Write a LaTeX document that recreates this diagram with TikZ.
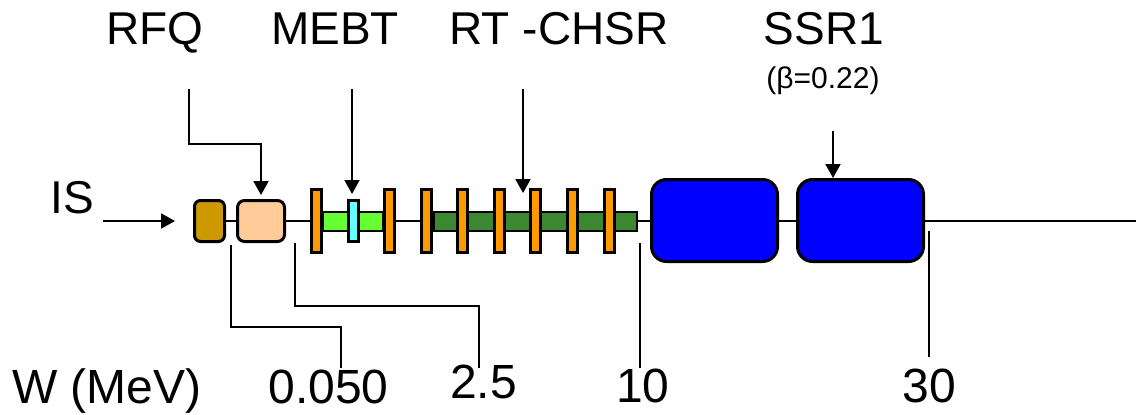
\documentclass[tikz,border=0pt]{standalone}
\usepackage{fontspec}
\setmainfont{Liberation Sans}
\usetikzlibrary{arrows.meta,backgrounds}
\definecolor{srcbrown}{RGB}{204,153,0}
\definecolor{rfqpeach}{RGB}{255,204,153}
\definecolor{mebtgreen}{RGB}{102,255,51}
\definecolor{chgreen}{RGB}{60,135,50}
\definecolor{kicker}{RGB}{102,255,255}
\definecolor{lensorange}{RGB}{255,153,0}
\definecolor{cavblue}{RGB}{0,0,255}
\tikzset{
  box/.style={draw=black, line width=3pt, rectangle, inner sep=0pt, outer sep=0pt},
  lens/.style={box, fill=lensorange, minimum width=10pt, minimum height=63pt},
  pipe/.style={draw=black, line width=2pt, rectangle, inner sep=0pt, outer sep=0pt, minimum height=19pt},
  feed/.style={line width=2pt, -{Triangle[length=14pt,width=15pt]}},
  tick/.style={line width=2pt},
  biglabel/.style={inner sep=0pt, anchor=base, font=\fontsize{46}{50}\selectfont},
  numlabel/.style={inner sep=0pt, anchor=base, font=\fontsize{48}{52}\selectfont},
  smalllabel/.style={inner sep=0pt, anchor=base, font=\fontsize{30}{34}\selectfont}
}
\begin{document}
\begin{tikzpicture}[x=1pt,y=-1pt]
\useasboundingbox (0,0) rectangle (1136,415);

% source and RFQ
\node[box, rounded corners=6pt, fill=srcbrown, minimum width=30pt, minimum height=41pt] (src) at (209.5,221) {};
\node[box, rounded corners=7pt, fill=rfqpeach, minimum width=47pt, minimum height=41pt] (rfq) at (261,221) {};

% MEBT
\node[pipe, fill=mebtgreen, minimum width=60pt] (mebt) at (353,221.5) {};
\node[box, fill=kicker, minimum width=10pt, minimum height=41pt] (kick) at (353.5,221) {};
\node[lens] (l1) at (316.5,221) {};
\node[lens] (l2) at (389.5,221) {};

% room-temperature cavities
\node[pipe, fill=chgreen, minimum width=203pt] (ch) at (535.5,221.5) {};
\foreach \i/\xx in {3/426.5,4/462.5,5/499.5,6/535.5,7/572.5,8/609.5}
  \node[lens] (l\i) at (\xx,221) {};

% superconducting cryomodules
\node[box, rounded corners=15pt, fill=cavblue, minimum width=126pt, minimum height=82pt] (ssra) at (714.5,220.5) {};
\node[box, rounded corners=15pt, fill=cavblue, minimum width=126pt, minimum height=82pt] (ssrb) at (860.5,220.5) {};

% beam line behind the elements
\coordinate (beamend) at (1136,221);
\begin{scope}[on background layer]
  \draw[line width=2pt] (src.east) -- (beamend);
\end{scope}

% section labels
\node[biglabel] (tRFQ) at (155,45) {RFQ};
\node[biglabel] (tMEBT) at (335,45) {MEBT};
\node[biglabel] (tCH) at (559,45) {RT -CHSR};
\node[biglabel] (tSSR) at (824,45) {SSR1};
\node[smalllabel] (tbeta) at (823,88) {(β=0.22)};
\node[biglabel] (tIS) at (72,213) {IS};

% pointers to the sections
\coordinate (pRFQ) at (189,89);
\coordinate (eRFQ) at (261,195);
\draw[feed] (pRFQ) |- (261,144) -- (eRFQ);
\coordinate (pMEBT) at (352,89);
\coordinate (eMEBT) at (352,194);
\draw[feed] (pMEBT) -- (eMEBT);
\coordinate (pCH) at (523,89);
\coordinate (eCH) at (523,193);
\draw[feed] (pCH) -- (eCH);
\coordinate (pSSR) at (833,131);
\coordinate (eSSR) at (833,178);
\draw[feed] (pSSR) -- (eSSR);
\coordinate (pIS) at (103,221);
\coordinate (eIS) at (175,221);
\draw[feed] (pIS) -- (eIS);

% energy scale
\node[numlabel] (tW) at (107,403) {W (MeV)};
\node[numlabel] (e1) at (328.5,403) {0.050};
\node[numlabel] (e2) at (483.5,398) {2.5};
\node[numlabel] (e3) at (643,402) {10};
\node[numlabel] (e4) at (929,402) {30};

\coordinate (k1) at (231,245);
\coordinate (k1e) at (341,368);
\draw[tick] (k1) |- (k1e |- 0,327) -- (k1e);
\coordinate (k2) at (295,243);
\coordinate (k2e) at (479,368);
\draw[tick] (k2) |- (k2e |- 0,306) -- (k2e);
\coordinate (k3) at (640,243);
\coordinate (k3e) at (640,368);
\draw[tick] (k3) -- (k3e);
\coordinate (k4) at (929,231);
\coordinate (k4e) at (929,357);
\draw[tick] (k4) -- (k4e);
\end{tikzpicture}
\end{document}
